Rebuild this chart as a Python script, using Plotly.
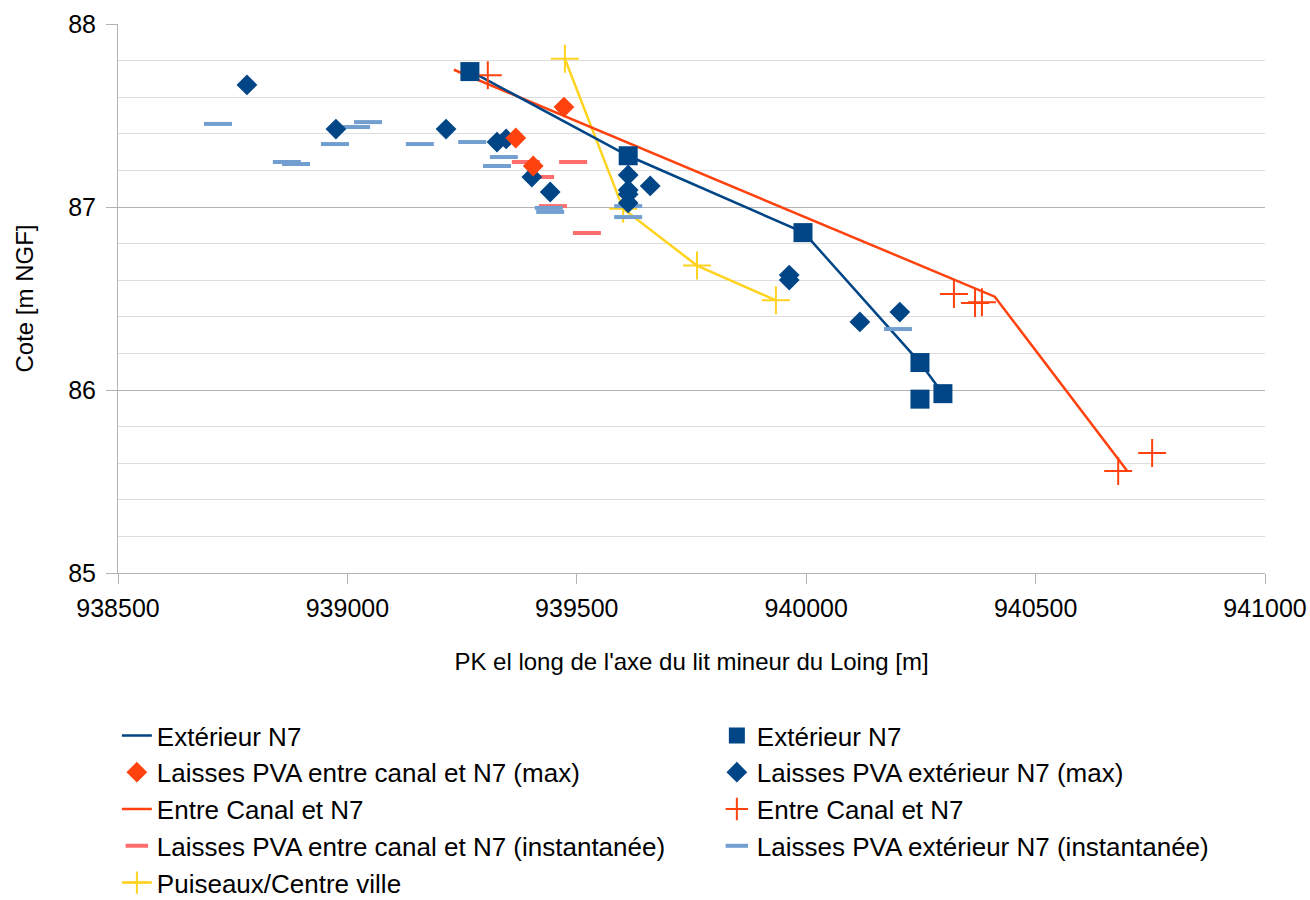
import plotly.graph_objects as go

# --- Extérieur N7 : ligne d'eau calculée ---
ext_line_pk = [939270, 939612, 939995, 940248, 940298]
ext_line_z = [87.74, 87.28, 86.86, 86.15, 85.98]

# --- Extérieur N7 : points ---
ext_pts_pk = [939267, 939612, 939993, 940248, 940248, 940298]
ext_pts_z = [87.74, 87.28, 86.86, 86.15, 85.95, 85.98]

# --- Entre Canal et N7 : ligne d'eau calculée ---
canal_line_pk = [939232, 940411, 940699]
canal_line_z = [87.75, 86.51, 85.56]

# --- Entre Canal et N7 : points ---
canal_pts_pk = [939306, 940322, 940368, 940383, 940680, 940754]
canal_pts_z = [87.72, 86.525, 86.475, 86.48, 85.557, 85.656]

# --- Puiseaux / Centre ville ---
puis_pk = [939474, 939601, 939762, 939934]
puis_z = [87.81, 86.99, 86.68, 86.49]

# --- Laisses PVA entre canal et N7 (max) ---
pva_canal_max_pk = [939472, 939367, 939405]
pva_canal_max_z = [87.546, 87.377, 87.224]

# --- Laisses PVA extérieur N7 (max) ---
pva_ext_max_pk = [938781, 938975, 939215, 939326, 939346, 939402, 939442,
                  939612, 939612, 939612, 939612, 939660, 939963, 939963,
                  940117, 940204]
pva_ext_max_z = [87.667, 87.426, 87.426, 87.355, 87.372, 87.164, 87.082,
                 87.175, 87.093, 87.07, 87.022, 87.115, 86.628, 86.601,
                 86.372, 86.426]

# --- Laisses PVA entre canal et N7 (instantanée) ---
pva_canal_inst_pk = [939389, 939420, 939492, 939448, 939522]
pva_canal_inst_z = [87.246, 87.164, 87.246, 87.005, 86.858]

# --- Laisses PVA extérieur N7 (instantanée) ---
pva_ext_inst_pk = [938718, 938868, 938888, 938973, 939019, 939045, 939158,
                   939272, 939341, 939326, 939439, 939442, 939612, 939612,
                   940200]
pva_ext_inst_z = [87.454, 87.246, 87.235, 87.344, 87.437, 87.464, 87.344,
                  87.355, 87.273, 87.224, 86.995, 86.973, 87.005, 86.945,
                  86.333]

BLUE = "#004586"
ORANGE = "#ff420e"
YELLOW = "#ffd320"
SALMON = "#ff6d6d"
LIGHTBLUE = "#729fcf"

fig = go.Figure()

# lines first (drawn underneath the markers)
fig.add_trace(go.Scatter(x=puis_pk, y=puis_z, name="Puiseaux/Centre ville",
                         mode="lines+markers", legendrank=9,
                         line=dict(color=YELLOW, width=2.5),
                         marker=dict(symbol="cross-thin", size=20,
                                     line=dict(color=YELLOW, width=2))))
fig.add_trace(go.Scatter(x=canal_line_pk, y=canal_line_z, name="Entre Canal et N7",
                         mode="lines", legendrank=5,
                         line=dict(color=ORANGE, width=2.5)))
fig.add_trace(go.Scatter(x=ext_line_pk, y=ext_line_z, name="Extérieur N7",
                         mode="lines", legendrank=1,
                         line=dict(color=BLUE, width=2.5)))
fig.add_trace(go.Scatter(x=pva_canal_inst_pk, y=pva_canal_inst_z,
                         name="Laisses PVA entre canal et N7 (instantanée)",
                         mode="markers", legendrank=7,
                         marker=dict(symbol="line-ew", size=20,
                                     line=dict(color=SALMON, width=4))))
fig.add_trace(go.Scatter(x=pva_ext_inst_pk, y=pva_ext_inst_z,
                         name="Laisses PVA extérieur N7 (instantanée)",
                         mode="markers", legendrank=8,
                         marker=dict(symbol="line-ew", size=20,
                                     line=dict(color=LIGHTBLUE, width=4))))
fig.add_trace(go.Scatter(x=canal_pts_pk, y=canal_pts_z, name="Entre Canal et N7",
                         mode="markers", legendrank=6,
                         marker=dict(symbol="cross-thin", size=20,
                                     line=dict(color=ORANGE, width=2))))
fig.add_trace(go.Scatter(x=ext_pts_pk, y=ext_pts_z, name="Extérieur N7",
                         mode="markers", legendrank=2,
                         marker=dict(symbol="square", size=19, color=BLUE)))
fig.add_trace(go.Scatter(x=pva_ext_max_pk, y=pva_ext_max_z,
                         name="Laisses PVA extérieur N7 (max)",
                         mode="markers", legendrank=4,
                         marker=dict(symbol="diamond", size=16, color=BLUE)))
fig.add_trace(go.Scatter(x=pva_canal_max_pk, y=pva_canal_max_z,
                         name="Laisses PVA entre canal et N7 (max)",
                         mode="markers", legendrank=3,
                         marker=dict(symbol="diamond", size=16, color=ORANGE)))

FONT = "Liberation Sans, Arial, sans-serif"

fig.update_layout(
    width=1310, height=900,
    margin=dict(l=118, r=45, t=24, b=327, autoexpand=False),
    plot_bgcolor="white", paper_bgcolor="white",
    font=dict(family=FONT, color="black", size=25),
    showlegend=True,
    legend=dict(orientation="h", xref="paper", yref="paper",
                x=-0.001, y=-0.2532, xanchor="left", yanchor="top",
                entrywidth=555, entrywidthmode="pixels",
                font=dict(family=FONT, size=26, color="black"),
                traceorder="normal"),
    xaxis=dict(range=[938500, 941000], dtick=500, tick0=938500,
               showgrid=False, zeroline=False, automargin=False,
               showline=True, linecolor="#b3b3b3", linewidth=1,
               ticks="outside", ticklen=10, tickcolor="#b3b3b3",
               tickfont=dict(size=25), ticklabelstandoff=3,
               tickformat="d",
               title=dict(text="PK el long de l'axe du lit mineur du Loing [m]",
                          font=dict(size=24), standoff=32)),
    yaxis=dict(range=[85, 88], dtick=1, tick0=85,
               showgrid=True, gridcolor="#b3b3b3", gridwidth=1,
               minor=dict(dtick=0.2, showgrid=True, gridcolor="#dddddd",
                          gridwidth=1),
               zeroline=False, automargin=False,
               showline=True, linecolor="#b3b3b3", linewidth=1,
               ticks="outside", ticklen=11, tickcolor="#b3b3b3",
               tickfont=dict(size=25), ticklabelstandoff=5,
               title=dict(text="Cote [m NGF]", font=dict(size=24), standoff=27)),
)

fig.write_html("out.html")
